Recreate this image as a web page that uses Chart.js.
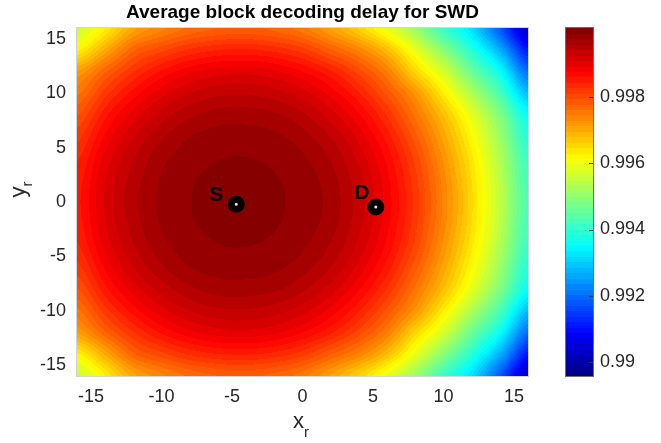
<!DOCTYPE html>
<html>
<head>
<meta charset="utf-8">
<script src="https://cdn.jsdelivr.net/npm/chart.js@4.4.0/dist/chart.umd.min.js"></script>
<style>
  body { margin: 0; background: #fff; }
  #wrap { position: relative; width: 661px; height: 443px; }
  #wrap canvas { position: absolute; top: 0; }
</style>
</head>
<body>
<div id="wrap">
  <canvas id="field" width="540" height="443" style="left:0"></canvas>
  <canvas id="cbar" width="121" height="443" style="left:540px"></canvas>
</div>
<script>
// grid of the plotted field
const xGrid = [-16, -14, -12, -10, -8, -6, -4, -2, 0, 2, 4, 6, 8, 10, 12, 14, 16];
const yGrid = [16, 14, 12, 10, 8, 6, 4, 2, 0, -2, -4, -6, -8, -10, -12, -14, -16];
const zGrid = [
  [0.99560, 0.99630, 0.99705, 0.99740, 0.99765, 0.99778, 0.99782, 0.99772, 0.99752, 0.99710, 0.99660, 0.99595, 0.99510, 0.99410, 0.99320, 0.99180, 0.99030],
  [0.99625, 0.99700, 0.99774, 0.99805, 0.99830, 0.99843, 0.99846, 0.99838, 0.99818, 0.99780, 0.99740, 0.99680, 0.99590, 0.99490, 0.99390, 0.99270, 0.99110],
  [0.99714, 0.99775, 0.99826, 0.99863, 0.99888, 0.99901, 0.99904, 0.99896, 0.99877, 0.99847, 0.99803, 0.99746, 0.99655, 0.99570, 0.99460, 0.99360, 0.99200],
  [0.99757, 0.99820, 0.99868, 0.99903, 0.99926, 0.99938, 0.99940, 0.99933, 0.99916, 0.99887, 0.99846, 0.99790, 0.99722, 0.99630, 0.99530, 0.99425, 0.99285],
  [0.99793, 0.99855, 0.99901, 0.99933, 0.99955, 0.99966, 0.99967, 0.99962, 0.99946, 0.99918, 0.99879, 0.99826, 0.99757, 0.99679, 0.99587, 0.99482, 0.99359],
  [0.99821, 0.99880, 0.99925, 0.99956, 0.99975, 0.99982, 0.99983, 0.99979, 0.99966, 0.99942, 0.99904, 0.99853, 0.99785, 0.99706, 0.99616, 0.99512, 0.99389],
  [0.99841, 0.99899, 0.99941, 0.99970, 0.99984, 0.99991, 0.99992, 0.99988, 0.99978, 0.99957, 0.99921, 0.99872, 0.99806, 0.99725, 0.99636, 0.99532, 0.99411],
  [0.99852, 0.99909, 0.99950, 0.99977, 0.99990, 0.99995, 0.99996, 0.99993, 0.99984, 0.99966, 0.99931, 0.99882, 0.99817, 0.99737, 0.99647, 0.99544, 0.99423],
  [0.99856, 0.99912, 0.99954, 0.99979, 0.99991, 0.99996, 0.99998, 0.99994, 0.99986, 0.99969, 0.99935, 0.99886, 0.99822, 0.99741, 0.99651, 0.99548, 0.99428],
  [0.99852, 0.99909, 0.99950, 0.99977, 0.99990, 0.99995, 0.99996, 0.99993, 0.99984, 0.99966, 0.99931, 0.99882, 0.99817, 0.99737, 0.99647, 0.99544, 0.99423],
  [0.99841, 0.99899, 0.99941, 0.99970, 0.99984, 0.99991, 0.99992, 0.99988, 0.99978, 0.99957, 0.99921, 0.99872, 0.99806, 0.99725, 0.99636, 0.99532, 0.99411],
  [0.99821, 0.99880, 0.99925, 0.99956, 0.99975, 0.99982, 0.99983, 0.99979, 0.99966, 0.99942, 0.99904, 0.99853, 0.99785, 0.99706, 0.99616, 0.99512, 0.99389],
  [0.99793, 0.99855, 0.99901, 0.99933, 0.99955, 0.99966, 0.99967, 0.99962, 0.99946, 0.99918, 0.99879, 0.99826, 0.99757, 0.99679, 0.99587, 0.99482, 0.99359],
  [0.99757, 0.99820, 0.99868, 0.99903, 0.99926, 0.99938, 0.99940, 0.99933, 0.99916, 0.99887, 0.99846, 0.99790, 0.99722, 0.99630, 0.99530, 0.99425, 0.99285],
  [0.99714, 0.99775, 0.99826, 0.99863, 0.99888, 0.99901, 0.99904, 0.99896, 0.99877, 0.99847, 0.99803, 0.99746, 0.99655, 0.99570, 0.99460, 0.99360, 0.99200],
  [0.99625, 0.99700, 0.99774, 0.99805, 0.99830, 0.99843, 0.99846, 0.99838, 0.99818, 0.99780, 0.99740, 0.99680, 0.99590, 0.99490, 0.99390, 0.99270, 0.99110],
  [0.99560, 0.99630, 0.99705, 0.99740, 0.99765, 0.99778, 0.99782, 0.99772, 0.99752, 0.99710, 0.99660, 0.99595, 0.99510, 0.99410, 0.99320, 0.99180, 0.99030]
];

// source and destination nodes
const nodeNames = ['S', 'D'];
const nodeX = [-4.7, 5.2];
const nodeY = [-0.2, -0.45];

// ticks
const xTicks = [-15, -10, -5, 0, 5, 10, 15];
const yTicks = [-15, -10, -5, 0, 5, 10, 15];
const cTicks = [0.99, 0.992, 0.994, 0.996, 0.998];
const cMin = 0.98958, cMax = 1.00008;

const ink = '#262626';
const fam = '"Liberation Sans", Arial, Helvetica, sans-serif';
const tickFont = { family: fam, size: 18 };
const nColors = 64;

// MATLAB style jet colour map entry
function jet(k) {
  const t = (k + 0.5) / nColors;
  const f = c => Math.round(255 * Math.max(0, Math.min(1, 1.5 - Math.abs(4 * t - c))));
  return [f(3), f(2), f(1)];
}
function colorIndex(v) {
  const k = Math.floor((v - cMin) / (cMax - cMin) * nColors);
  return Math.max(0, Math.min(nColors - 1, k));
}

// smooth (cubic) resampling of the grid for drawing
function cubic(p0, p1, p2, p3, t) {
  return p1 + 0.5 * t * (p2 - p0 + t * (2 * p0 - 5 * p1 + 4 * p2 - p3 + t * (3 * (p1 - p2) + p3 - p0)));
}
function zAt(j, i) {
  j = Math.max(0, Math.min(yGrid.length - 1, j));
  i = Math.max(0, Math.min(xGrid.length - 1, i));
  return zGrid[j][i];
}
function sample(xv, yv) {
  let i = 0;
  while (i < xGrid.length - 2 && xv > xGrid[i + 1]) i++;
  let j = 0;
  while (j < yGrid.length - 2 && yv < yGrid[j + 1]) j++;
  const tx = Math.max(0, Math.min(1, (xv - xGrid[i]) / (xGrid[i + 1] - xGrid[i])));
  const ty = Math.max(0, Math.min(1, (yv - yGrid[j]) / (yGrid[j + 1] - yGrid[j])));
  const r = [-1, 0, 1, 2].map(m => cubic(zAt(j + m, i - 1), zAt(j + m, i), zAt(j + m, i + 1), zAt(j + m, i + 2), tx));
  return cubic(r[0], r[1], r[2], r[3], ty);
}

const fieldPlugin = {
  id: 'field',
  beforeDatasetsDraw(chart) {
    const { ctx, chartArea: a, scales: { x, y } } = chart;
    const w = Math.round(a.right - a.left), h = Math.round(a.bottom - a.top);
    const img = ctx.createImageData(w, h);
    for (let j = 0; j < h; j++) {
      const yv = y.getValueForPixel(a.top + j + 0.5);
      for (let i = 0; i < w; i++) {
        const xv = x.getValueForPixel(a.left + i + 0.5);
        const c = jet(colorIndex(sample(xv, yv)));
        const p = (j * w + i) * 4;
        img.data[p] = c[0]; img.data[p + 1] = c[1]; img.data[p + 2] = c[2]; img.data[p + 3] = 255;
      }
    }
    ctx.putImageData(img, Math.round(a.left), Math.round(a.top));
    ctx.save();
    ctx.strokeStyle = '#d4d4d4';
    ctx.lineWidth = 1;
    ctx.strokeRect(Math.round(a.left) - 0.5, Math.round(a.top) - 0.5, w + 1, h + 1);
    ctx.restore();
  },
  afterDatasetsDraw(chart) {
    const { ctx, scales: { x, y } } = chart;
    const offs = [[-20, -3], [-14, -8]];
    ctx.save();
    ctx.fillStyle = '#000';
    ctx.font = 'bold 21px ' + fam;
    ctx.textAlign = 'center';
    nodeNames.forEach((n, i) => {
      ctx.fillText(n, x.getPixelForValue(nodeX[i]) + offs[i][0], y.getPixelForValue(nodeY[i]) + offs[i][1]);
    });
    ctx.restore();
  },
  afterDraw(chart) {
    const { ctx, chartArea: a } = chart;
    const cx = (a.left + a.right) / 2;
    ctx.save();
    ctx.fillStyle = '#000';
    ctx.font = 'bold 19px ' + fam;
    ctx.textAlign = 'center';
    ctx.fillText('Average block decoding delay for SWD', cx, 18);

    ctx.fillStyle = ink;
    ctx.textAlign = 'left';
    ctx.font = '22px ' + fam;
    const wx = ctx.measureText('x').width;
    ctx.fillText('x', cx - 4 - wx / 2, 428);
    ctx.font = '15px ' + fam;
    ctx.fillText('r', cx - 4 + wx / 2, 437);

    ctx.translate(25, (a.top + a.bottom) / 2 - 10);
    ctx.rotate(-Math.PI / 2);
    ctx.font = '22px ' + fam;
    const wy = ctx.measureText('y').width;
    ctx.fillText('y', -wy / 2, 0);
    ctx.font = '15px ' + fam;
    ctx.fillText('r', wy / 2, 7);
    ctx.restore();
  }
};

const axisBase = {
  type: 'linear',
  grid: { display: false, drawTicks: false },
  border: { display: false },
  ticks: { font: tickFont, color: ink }
};

new Chart(document.getElementById('field'), {
  type: 'scatter',
  data: {
    datasets: [{
      data: nodeX.map((v, i) => ({ x: v, y: nodeY[i] })),
      pointRadius: 5,
      pointHoverRadius: 5,
      pointBorderWidth: 7,
      borderColor: '#000',
      backgroundColor: '#f2e4e4'
    }]
  },
  options: {
    responsive: false,
    animation: false,
    events: [],
    layout: { padding: { top: 28, right: 10 } },
    plugins: { legend: { display: false }, tooltip: { enabled: false } },
    scales: {
      x: {
        ...axisBase, min: -16, max: 16,
        ticks: { ...axisBase.ticks, padding: 10 },
        afterBuildTicks: s => { s.ticks = xTicks.map(v => ({ value: v })); },
        afterFit: s => { s.height = 67; }
      },
      y: {
        ...axisBase, min: -16, max: 16,
        ticks: { ...axisBase.ticks, padding: 11 },
        afterBuildTicks: s => { s.ticks = yTicks.map(v => ({ value: v })); },
        afterFit: s => { s.width = 77; }
      }
    }
  },
  plugins: [fieldPlugin]
});

// colour bar
const barPlugin = {
  id: 'bar',
  beforeDraw(chart) {
    const { ctx, chartArea: a, scales: { y } } = chart;
    ctx.save();
    for (let k = 0; k < nColors; k++) {
      const v0 = cMin + k * (cMax - cMin) / nColors;
      const v1 = cMin + (k + 1) * (cMax - cMin) / nColors;
      const p0 = y.getPixelForValue(v0), p1 = y.getPixelForValue(v1);
      const c = jet(k);
      ctx.fillStyle = `rgb(${c[0]},${c[1]},${c[2]})`;
      ctx.fillRect(a.left, Math.floor(p1), a.right - a.left, Math.ceil(p0) - Math.floor(p1));
    }
    ctx.strokeStyle = '#6e6e6e';
    ctx.lineWidth = 1;
    ctx.strokeRect(a.left - 0.5, a.top - 0.5, a.right - a.left + 1, a.bottom - a.top + 1);
    ctx.strokeStyle = '#333';
    cTicks.forEach(v => {
      const p = Math.round(y.getPixelForValue(v)) + 0.5;
      ctx.beginPath();
      ctx.moveTo(a.right - 4, p);
      ctx.lineTo(a.right, p);
      ctx.stroke();
    });
    ctx.restore();
  }
};

new Chart(document.getElementById('cbar'), {
  type: 'scatter',
  data: { datasets: [] },
  options: {
    responsive: false,
    animation: false,
    events: [],
    layout: { padding: { left: 26, top: 28, bottom: 67, right: 0 } },
    plugins: { legend: { display: false }, tooltip: { enabled: false } },
    scales: {
      x: { display: false, min: 0, max: 1 },
      y: {
        ...axisBase, position: 'right', min: cMin, max: cMax,
        ticks: { ...axisBase.ticks, padding: 7, callback: v => String(v) },
        afterBuildTicks: s => { s.ticks = cTicks.map(v => ({ value: v })); },
        afterFit: s => { s.width = 68; }
      }
    }
  },
  plugins: [barPlugin]
});
</script>
</body>
</html>
